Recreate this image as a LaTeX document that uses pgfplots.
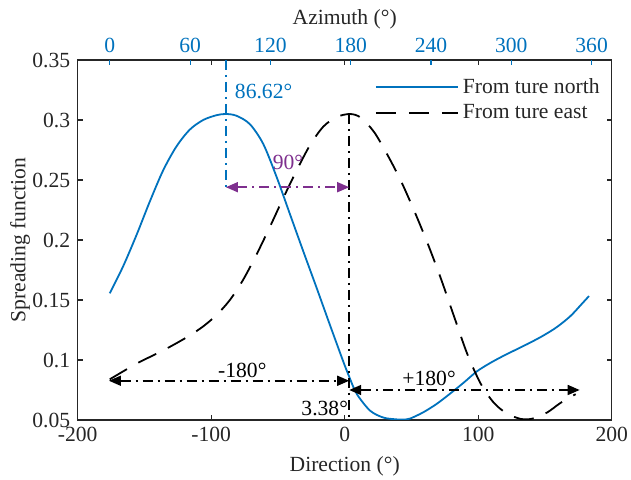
\documentclass[border=0pt]{standalone}
\usepackage{fontspec}
\setmainfont{Liberation Serif}
\usepackage{pgfplots}
\pgfplotsset{compat=1.18}
\usetikzlibrary{arrows.meta}
\definecolor{mblue}{rgb}{0,0.447,0.741}
\definecolor{mpurple}{rgb}{0.494,0.184,0.556}
\definecolor{axgray}{rgb}{0.15,0.15,0.15}
\tikzset{dashdotm/.style={dash pattern=on 5pt off 2.5pt on 1pt off 2.5pt},
  tri/.tip={Triangle[length=6pt,width=5pt]}}
\begin{document}
\fontsize{10.8}{13}\selectfont
\begin{tikzpicture}
\begin{axis}[name=main, scale only axis, width=267pt, height=180pt,
  xmin=-200, xmax=200, ymin=0.05, ymax=0.35,
  scaled ticks=false,
  xtick={-200,-100,0,100,200}, ytick={0.05,0.1,0.15,0.2,0.25,0.3,0.35},
  xticklabels={-200,-100,0,100,200},
  yticklabels={0.05,0.1,0.15,0.2,0.25,0.3,0.35},
  tick align=inside, major tick length=2.5pt,
  axis line style={axgray, line width=0.7pt}, tick style={axgray, line width=0.6pt},
  ticklabel style={text=axgray},
  xlabel={Direction (°)}, ylabel={Spreading function},
  xlabel style={text=axgray},
  ylabel style={text=axgray, at={(axis description cs:-0.108,0.5)}, anchor=center},
  legend style={draw=none, fill=none, at={(rel axis cs:0.556,0.962)}, anchor=north west,
    inner sep=0pt, row sep=0pt, text=axgray},
  legend cell align=left,
  legend image code/.code={\draw[#1] (0,0) -- (41pt,0);},
]
\addplot[mblue, line width=0.9pt, smooth] coordinates {
(-176,0.1556) (-166,0.178) (-156,0.204) (-146,0.232) (-136,0.258)
(-126,0.278) (-116,0.292) (-106,0.300) (-96,0.304) (-89,0.305)
(-81,0.3035) (-71,0.2965) (-61,0.280) (-51,0.2525) (-41,0.2215)
(-31,0.1905) (-21,0.160) (-11,0.129) (-1,0.0985) (3.4,0.086)
(9,0.0718) (19,0.0578) (29,0.052) (39,0.0505) (44,0.0504) (49,0.0512)
(59,0.0565) (69,0.0635) (79,0.072) (89,0.081) (99,0.0905)
(109,0.0975) (119,0.1035) (129,0.109) (139,0.1145) (149,0.1205)
(159,0.1275) (169,0.1365) (177,0.146) (183,0.1533)
};
\addlegendentry{From ture north}
\addplot[black, line width=0.9pt, smooth, dash pattern=on 10pt off 6.5pt] coordinates {
(-176,0.0839) (-166,0.0905) (-156,0.097) (-146,0.1025) (-136,0.108)
(-126,0.114) (-116,0.1205) (-106,0.128) (-96,0.1375) (-86,0.150)
(-76,0.167) (-66,0.188) (-56,0.211) (-46,0.235) (-36,0.258)
(-26,0.279) (-16,0.2945) (-6,0.3025) (4,0.305) (12,0.302)
(22,0.290) (32,0.271) (42,0.2495) (52,0.2245) (62,0.1975)
(72,0.168) (82,0.136) (92,0.1045) (102,0.080) (112,0.064)
(122,0.055) (132,0.0508) (136,0.0505) (142,0.0515) (152,0.0565)
(162,0.0645) (173,0.0715)
};
\addlegendentry{From ture east}
\draw[mblue, line width=0.8pt, dashdotm] (axis cs:-89,0.35) -- (axis cs:-89,0.244);
\draw[black, line width=0.8pt, dashdotm] (axis cs:3.38,0.305) -- (axis cs:3.38,0.05);
\draw[mpurple, line width=0.8pt, dashdotm, {tri}-{tri}] (axis cs:-89,0.244) -- (axis cs:3.38,0.244);
\draw[black, line width=0.8pt, dashdotm, {tri}-{tri}] (axis cs:-176.6,0.0827) -- (axis cs:3.38,0.0827);
\draw[black, line width=0.8pt, dashdotm, {tri}-{tri}] (axis cs:3.38,0.075) -- (axis cs:176,0.075);
\node[mblue, anchor=west, inner sep=0pt] at (axis cs:-82.5,0.3236) {86.62°};
\node[mpurple, inner sep=0pt] at (axis cs:-42.5,0.2646) {90°};
\node[black, inner sep=0pt] at (axis cs:-76.7,0.0917) {-180°};
\node[black, inner sep=0pt] at (axis cs:63.2,0.0846) {+180°};
\node[black, anchor=east, inner sep=0pt] at (axis cs:2.7,0.0592) {3.38°};
\end{axis}
\begin{axis}[scale only axis, width=267pt, height=180pt,
  xmin=-24, xmax=375, ymin=0.05, ymax=0.35,
  scaled ticks=false,
  axis x line*=top, axis y line=none,
  axis line style={draw=none},
  xtick={0,60,120,180,240,300,360},
  xticklabels={0,60,120,180,240,300,360},
  tick align=inside, major tick length=2.5pt,
  tick style={mblue, line width=0.6pt},
  ticklabel style={text=mblue},
  xlabel={Azimuth (°)}, xlabel style={text=axgray, yshift=-3pt},
]
\end{axis}
\pgfresetboundingbox
\path (-38.85pt,-30pt) rectangle (276.65pt,210pt);
\end{tikzpicture}
\end{document}
